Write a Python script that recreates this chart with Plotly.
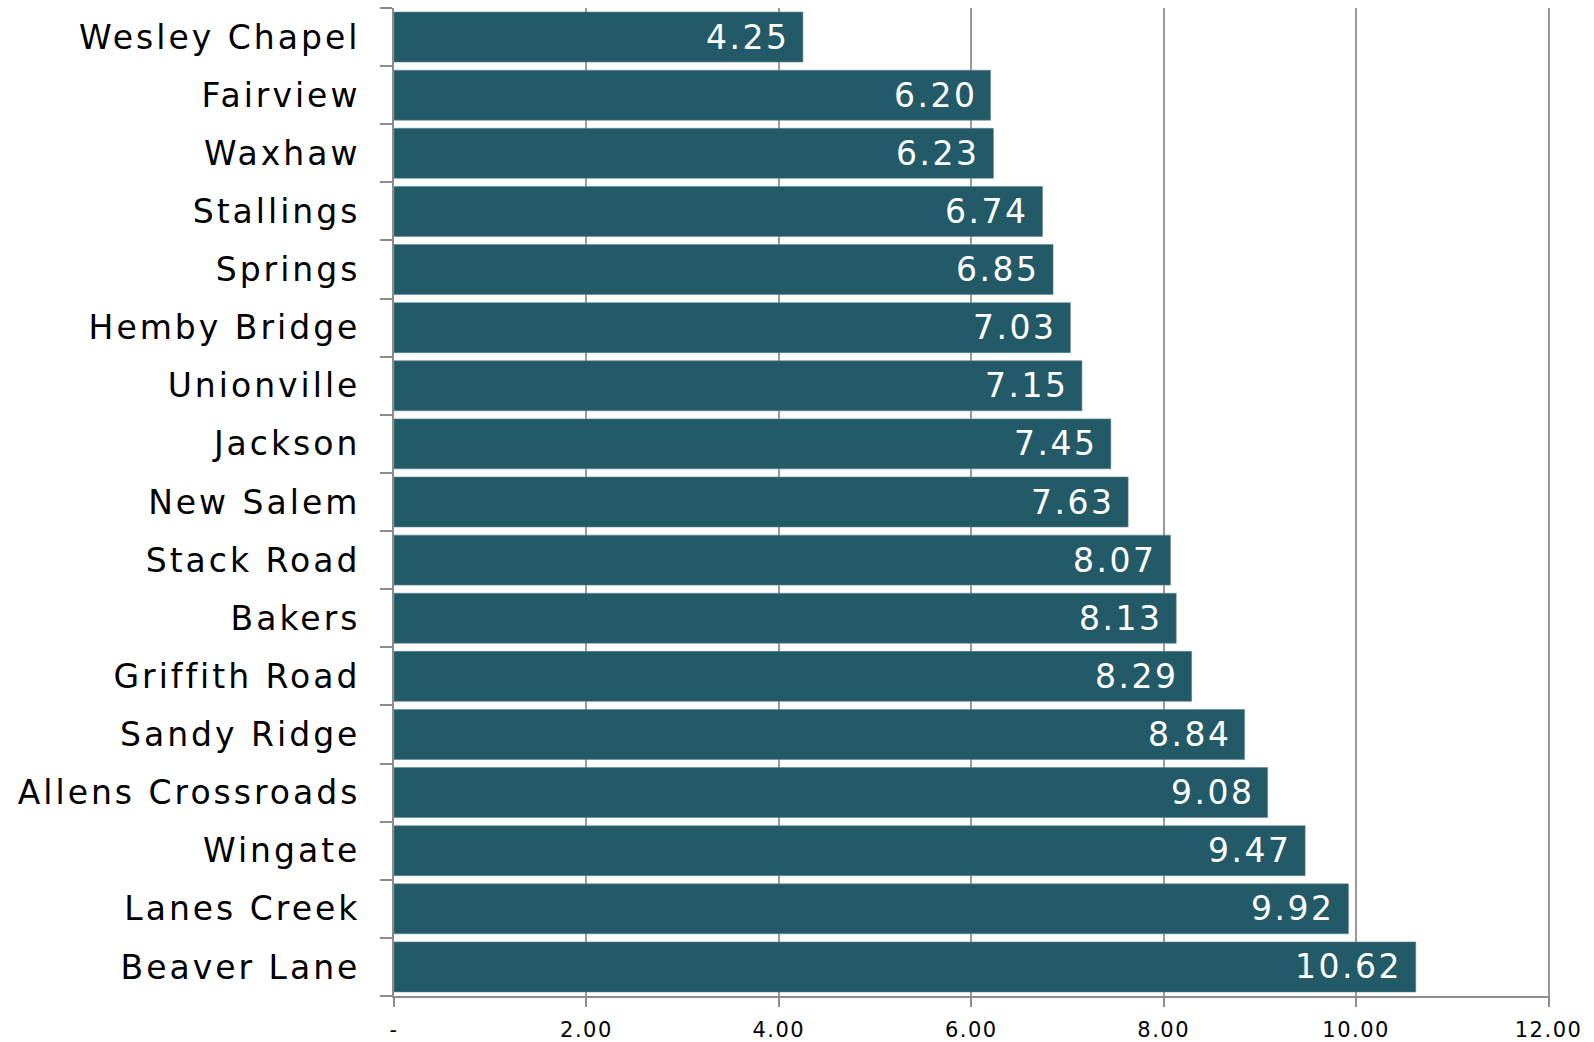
import plotly.graph_objects as go

categories = ["Wesley Chapel", "Fairview", "Waxhaw", "Stallings", "Springs",
              "Hemby Bridge", "Unionville", "Jackson", "New Salem", "Stack Road",
              "Bakers", "Griffith Road", "Sandy Ridge", "Allens Crossroads",
              "Wingate", "Lanes Creek", "Beaver Lane"]
values = [4.25, 6.20, 6.23, 6.74, 6.85, 7.03, 7.15, 7.45, 7.63, 8.07,
          8.13, 8.29, 8.84, 9.08, 9.47, 9.92, 10.62]
x_tickvals = [0, 2, 4, 6, 8, 10, 12]
x_ticktext = ["-", "2.00", "4.00", "6.00", "8.00", "10.00", "12.00"]

BAR = "#235a68"
FONT = "Verdana, DejaVu Sans, sans-serif"

fig = go.Figure()
fig.add_trace(go.Bar(
    x=values, y=categories, orientation="h",
    marker=dict(color=BAR, line=dict(color="#5f8792", width=0.6)),
    hoverinfo="skip",
))

for v, c in zip(values, categories):
    fig.add_annotation(
        x=v, y=c, xref="x", yref="y",
        text=f'<span style="letter-spacing:2.5px">{v:.2f}</span>',
        showarrow=False, xanchor="right", yanchor="middle",
        xshift=-12, font=dict(family=FONT, size=33, color="white"),
    )

fig.update_layout(
    width=1594, height=1042,
    margin=dict(l=394, r=44, t=8, b=46, autoexpand=False),
    paper_bgcolor="white", plot_bgcolor="white",
    bargap=0.14, showlegend=False,
    font=dict(family=FONT, color="black"),
)
fig.update_xaxes(
    range=[0, 12.015], tickvals=x_tickvals,
    ticktext=[f'<span style="letter-spacing:1.5px">{t}</span>' for t in x_ticktext],
    showgrid=True, gridcolor="#9a9a9a", gridwidth=1.5,
    showline=True, linecolor="#8c8c8c", linewidth=2,
    ticks="outside", ticklen=9, tickwidth=2, tickcolor="#8c8c8c",
    tickfont=dict(family=FONT, size=21, color="black"),
    ticklabelstandoff=5, zeroline=False, automargin=False,
)
fig.update_yaxes(
    autorange="reversed", tickvals=categories,
    ticktext=[f'<span style="letter-spacing:3px">{c}</span>' for c in categories],
    showline=True, linecolor="#8c8c8c", linewidth=2,
    ticks="outside", tickson="boundaries", ticklen=12, tickwidth=2, tickcolor="#8c8c8c",
    tickfont=dict(family=FONT, size=33, color="black"),
    ticklabelstandoff=25, showgrid=False, automargin=False,
)

fig.write_html("out.html")
